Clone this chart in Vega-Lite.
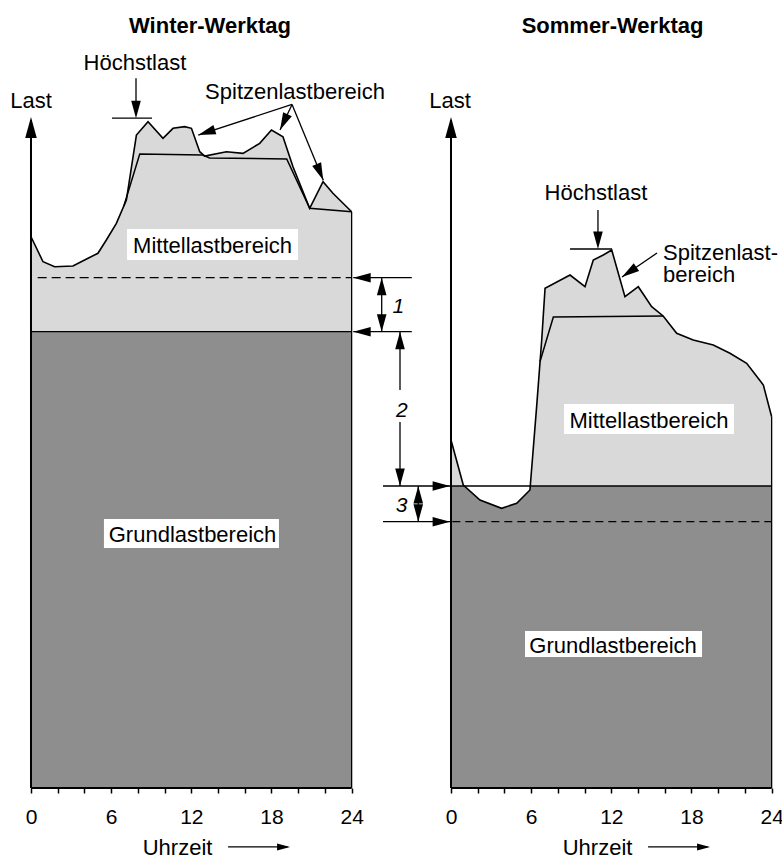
{
  "$schema": "https://vega.github.io/schema/vega-lite/v6.json",
  "autosize": {"type": "pad"},
  "padding": 0,
  "background": "white",
  "spacing": 0,
  "bounds": "flush",
  "config": {
    "view": {"stroke": null},
    "text": {"font": "Liberation Sans, Arial, sans-serif", "fontSize": 22, "color": "black", "baseline": "alphabetic"},
    "axis": {"labelFont": "Liberation Sans, Arial, sans-serif"}
  },
  "datasets": {
    "w_outer": [
      {"h": 0, "v": 83.95}, {"h": 0.9, "v": 80.14}, {"h": 1.77, "v": 79.38}, {"h": 3.14, "v": 79.49},
      {"h": 4.27, "v": 80.66}, {"h": 5.01, "v": 81.43}, {"h": 5.64, "v": 83.45}, {"h": 6.39, "v": 85.99},
      {"h": 7.14, "v": 89.54}, {"h": 7.89, "v": 99.44}, {"h": 8.76, "v": 101.47}, {"h": 9.88, "v": 98.94},
      {"h": 10.63, "v": 100.46}, {"h": 11.5, "v": 100.71}, {"h": 12.01, "v": 100.46}, {"h": 12.63, "v": 96.9},
      {"h": 13.0, "v": 96.24}, {"h": 14.63, "v": 96.9}, {"h": 15.87, "v": 96.65}, {"h": 17.12, "v": 98.17},
      {"h": 18.0, "v": 100.2}, {"h": 18.86, "v": 99.18}, {"h": 19.61, "v": 94.61}, {"h": 20.86, "v": 88.28},
      {"h": 21.86, "v": 92.33}, {"h": 22.6, "v": 90.56}, {"h": 24, "v": 87.76}
    ],
    "w_inner": [
      {"h": 6.95, "v": 88.64}, {"h": 8.14, "v": 96.55}, {"h": 12.85, "v": 96.4}, {"h": 13.37, "v": 95.94},
      {"h": 19.14, "v": 95.79}, {"h": 20.86, "v": 88.28}, {"h": 24, "v": 87.76}
    ],
    "w_base": [{"h": 0, "v": 69.49}, {"h": 24, "v": 69.49}],
    "w_boxes": [
      {"h": 7.19, "h2": 19.99, "v": 85.12, "v2": 80.41},
      {"h": 5.46, "h2": 18.56, "v": 40.96, "v2": 36.55}
    ],
    "w_rules": [
      {"h": 0, "v": 0, "h2": 0, "v2": 101.7, "k": "t"},
      {"h": 0, "v": 0, "h2": 24, "v2": 0, "k": "t"},
      {"h": 24, "v": 0, "h2": 24, "v2": 87.76, "k": "s"},
      {"h": 0, "v": 69.49, "h2": 24, "v2": 69.49, "k": "s"},
      {"h": 0.5, "v": 77.71, "h2": 24, "v2": 77.71, "k": "d"},
      {"h": 6.06, "v": 102.0, "h2": 9.06, "v2": 102.0, "k": "s"},
      {"h": 7.86, "v": 108.1, "h2": 7.86, "v2": 103, "k": "s"},
      {"h": 19.54, "v": 104.09, "h2": 12.52, "v2": 99.44, "k": "s"},
      {"h": 19.54, "v": 104.09, "h2": 18.64, "v2": 100.2, "k": "s"},
      {"h": 19.54, "v": 104.09, "h2": 21.88, "v2": 92.56, "k": "s"},
      {"h": 24.12, "v": 77.71, "h2": 28.5, "v2": 77.71, "k": "s"},
      {"h": 24.12, "v": 69.49, "h2": 28.5, "v2": 69.49, "k": "s"},
      {"h": 26.25, "v": 77.71, "h2": 26.25, "v2": 69.49, "k": "s"},
      {"h": 27.62, "v": 69.49, "h2": 27.62, "v2": 60.61, "k": "s"},
      {"h": 27.62, "v": 55.74, "h2": 27.62, "v2": 45.99, "k": "s"},
      {"h": 14.75, "v": -8.98, "h2": 19.2, "v2": -8.98, "k": "s"}
    ],
    "w_heads": [
      {"h": 0, "v": 102.18, "a": 0, "k": "ax"},
      {"h": 7.86, "v": 102.0, "a": 180, "k": "sm"},
      {"h": 12.52, "v": 99.44, "a": 252, "k": "sm"},
      {"h": 18.64, "v": 100.2, "a": 205.2, "k": "sm"},
      {"h": 21.88, "v": 92.56, "a": 157.5, "k": "sm"},
      {"h": 24.12, "v": 77.71, "a": 270, "k": "sm"},
      {"h": 24.12, "v": 69.49, "a": 270, "k": "sm"},
      {"h": 26.25, "v": 77.71, "a": 0, "k": "sm"},
      {"h": 26.25, "v": 69.49, "a": 180, "k": "sm"},
      {"h": 27.62, "v": 69.49, "a": 0, "k": "sm"},
      {"h": 27.62, "v": 45.99, "a": 180, "k": "sm"},
      {"h": 19.39, "v": -8.98, "a": 90, "k": "md"}
    ],
    "w_text": [
      {"h": 13.4, "v": 114.93, "t": "Winter-Werktag", "k": "title"},
      {"h": 0, "v": 103.6, "t": "Last", "k": "c"},
      {"h": 7.78, "v": 109.34, "t": "Höchstlast", "k": "c"},
      {"h": 19.76, "v": 104.88, "t": "Spitzenlastbereich", "k": "c"},
      {"h": 13.59, "v": 81.42, "t": "Mittellastbereich", "k": "c"},
      {"h": 12.09, "v": 37.51, "t": "Grundlastbereich", "k": "c"},
      {"h": 10.97, "v": -10.2, "t": "Uhrzeit", "k": "c"},
      {"h": 27.49, "v": 72.29, "t": "1", "k": "i"},
      {"h": 27.75, "v": 56.55, "t": "2", "k": "i"}
    ],
    "s_outer": [
      {"h": 0, "v": 52.99}, {"h": 0.92, "v": 46.14}, {"h": 2.17, "v": 43.86}, {"h": 3.79, "v": 42.59},
      {"h": 4.92, "v": 43.36}, {"h": 5.91, "v": 45.38}, {"h": 6.41, "v": 58.07}, {"h": 6.79, "v": 68.22},
      {"h": 7.04, "v": 76.1}, {"h": 8.91, "v": 78.12}, {"h": 10.03, "v": 76.34}, {"h": 10.65, "v": 80.41},
      {"h": 11.4, "v": 81.17}, {"h": 12.03, "v": 81.93}, {"h": 13.02, "v": 74.82}, {"h": 14.02, "v": 76.34},
      {"h": 15.02, "v": 73.3}, {"h": 15.88, "v": 71.88}, {"h": 16.89, "v": 69.24}, {"h": 18.13, "v": 68.22},
      {"h": 19.63, "v": 67.46}, {"h": 20.88, "v": 66.2}, {"h": 22.13, "v": 64.67}, {"h": 23.38, "v": 61.37},
      {"h": 24, "v": 56.54}
    ],
    "s_inner": [
      {"h": 6.66, "v": 64.9}, {"h": 7.66, "v": 71.73}, {"h": 15.88, "v": 71.88}
    ],
    "s_base": [
      {"h": 0, "v": 45.99}, {"h": 0.94, "v": 45.99}, {"h": 2.17, "v": 43.86}, {"h": 3.79, "v": 42.59},
      {"h": 4.92, "v": 43.36}, {"h": 5.91, "v": 45.38}, {"h": 5.95, "v": 45.99}, {"h": 24, "v": 45.99}
    ],
    "s_boxes": [
      {"h": 8.46, "h2": 21.18, "v": 58.48, "v2": 53.91},
      {"h": 5.54, "h2": 18.79, "v": 23.91, "v2": 19.95}
    ],
    "s_rules": [
      {"h": 0, "v": 0, "h2": 0, "v2": 101.7, "k": "t"},
      {"h": 0, "v": 0, "h2": 24, "v2": 0, "k": "t"},
      {"h": 24, "v": 0, "h2": 24, "v2": 56.54, "k": "s"},
      {"h": 0, "v": 45.99, "h2": 24, "v2": 45.99, "k": "s"},
      {"h": 0.1, "v": 40.55, "h2": 24, "v2": 40.55, "k": "d"},
      {"h": 8.91, "v": 82.08, "h2": 12.05, "v2": 82.08, "k": "s"},
      {"h": 11.0, "v": 88.02, "h2": 11.0, "v2": 83, "k": "s"},
      {"h": 15.42, "v": 81.47, "h2": 12.8, "v2": 77.82, "k": "s"},
      {"h": -5.09, "v": 45.99, "h2": -0.07, "v2": 45.99, "k": "s"},
      {"h": -5.09, "v": 40.55, "h2": -0.07, "v2": 40.55, "k": "s"},
      {"h": -2.45, "v": 45.99, "h2": -2.45, "v2": 40.55, "k": "s"},
      {"h": 14.75, "v": -8.98, "h2": 19.2, "v2": -8.98, "k": "s"}
    ],
    "s_heads": [
      {"h": 0, "v": 102.18, "a": 0, "k": "ax"},
      {"h": 11.0, "v": 82.08, "a": 180, "k": "sm"},
      {"h": 12.8, "v": 77.82, "a": 235.6, "k": "sm"},
      {"h": -0.07, "v": 45.99, "a": 90, "k": "sm"},
      {"h": -0.07, "v": 40.55, "a": 90, "k": "sm"},
      {"h": -2.45, "v": 45.99, "a": 0, "k": "sm"},
      {"h": -2.45, "v": 40.55, "a": 180, "k": "sm"},
      {"h": 19.39, "v": -8.98, "a": 90, "k": "md"}
    ],
    "s_text": [
      {"h": 12.09, "v": 114.93, "t": "Sommer-Werktag", "k": "title"},
      {"h": -0.07, "v": 103.6, "t": "Last", "k": "c"},
      {"h": 10.85, "v": 89.54, "t": "Höchstlast", "k": "c"},
      {"h": 15.87, "v": 80.41, "t": "Spitzenlast-", "k": "l"},
      {"h": 15.87, "v": 77.1, "t": "bereich", "k": "l"},
      {"h": 14.82, "v": 54.78, "t": "Mittellastbereich", "k": "c"},
      {"h": 12.13, "v": 20.51, "t": "Grundlastbereich", "k": "c"},
      {"h": 10.97, "v": -10.2, "t": "Uhrzeit", "k": "c"},
      {"h": -3.69, "v": 42.08, "t": "3", "k": "i"}
    ]
  },
  "hconcat": [
    {
      "width": 420,
      "height": 788,
      "encoding": {
        "x": {"field": "h", "type": "quantitative",
          "scale": {"domain": [-2.32, 29.117], "nice": false, "zero": false},
          "axis": {"values": [0, 2, 4, 6, 8, 10, 12, 14, 16, 18, 20, 22, 24],
            "labelExpr": "datum.value % 6 === 0 ? datum.label : ''",
            "domain": false, "grid": false, "ticks": true, "tickSize": 5, "tickColor": "black", "tickWidth": 1.5,
            "labelFontSize": 21, "labelColor": "black", "labelBaseline": "alphabetic", "labelPadding": 30,
            "labelFlush": false, "labelOverlap": false, "title": null}},
        "y": {"field": "v", "type": "quantitative",
          "scale": {"domain": [0, 120], "nice": false, "zero": false}, "axis": null}
      },
      "layer": [
        {"data": {"name": "w_outer"}, "mark": {"type": "area", "orient": "vertical", "color": "#d9d9d9"}, "encoding": {"y2": {"datum": 0}}},
        {"data": {"name": "w_base"}, "mark": {"type": "area", "orient": "vertical", "color": "#8e8e8e"}, "encoding": {"y2": {"datum": 0}}},
        {"data": {"name": "w_boxes"}, "mark": {"type": "rect", "color": "white"}, "encoding": {"x2": {"field": "h2"}, "y2": {"field": "v2"}}},
        {"data": {"name": "w_outer"}, "mark": {"type": "line", "color": "black", "strokeWidth": 1.6}, "encoding": {}},
        {"data": {"name": "w_inner"}, "mark": {"type": "line", "color": "black", "strokeWidth": 1.5}, "encoding": {}},
        {"data": {"name": "w_rules"}, "transform": [{"filter": "datum.k == 's'"}], "mark": {"type": "rule", "color": "black", "strokeWidth": 1.3}, "encoding": {"x2": {"field": "h2"}, "y2": {"field": "v2"}}},
        {"data": {"name": "w_rules"}, "transform": [{"filter": "datum.k == 't'"}], "mark": {"type": "rule", "color": "black", "strokeWidth": 2}, "encoding": {"x2": {"field": "h2"}, "y2": {"field": "v2"}}},
        {"data": {"name": "w_rules"}, "transform": [{"filter": "datum.k == 'd'"}], "mark": {"type": "rule", "color": "black", "strokeWidth": 1.2, "strokeDash": [9, 5]}, "encoding": {"x2": {"field": "h2"}, "y2": {"field": "v2"}}},
        {"data": {"name": "w_heads"}, "mark": {"type": "point", "shape": "M0,0L0.55,2L-0.55,2Z", "filled": true, "color": "black", "opacity": 1, "strokeWidth": 0},
          "encoding": {"angle": {"field": "a", "type": "quantitative", "scale": null},
            "size": {"field": "k", "type": "nominal", "scale": {"domain": ["ax", "sm", "md"], "range": [441, 169, 324]}, "legend": null}}},
        {"data": {"name": "w_text"}, "transform": [{"filter": "datum.k == 'title'"}], "mark": {"type": "text", "align": "center", "fontWeight": "bold", "fontSize": 22}, "encoding": {"text": {"field": "t"}}},
        {"data": {"name": "w_text"}, "transform": [{"filter": "datum.k == 'c'"}], "mark": {"type": "text", "align": "center", "fontSize": 22}, "encoding": {"text": {"field": "t"}}},
        {"data": {"name": "w_text"}, "transform": [{"filter": "datum.k == 'i'"}], "mark": {"type": "text", "align": "center", "fontSize": 21, "fontStyle": "italic"}, "encoding": {"text": {"field": "t"}}}
      ]
    },
    {
      "width": 362,
      "height": 788,
      "encoding": {
        "x": {"field": "h", "type": "quantitative",
          "scale": {"domain": [-2.32, 24.775], "nice": false, "zero": false},
          "axis": {"values": [0, 2, 4, 6, 8, 10, 12, 14, 16, 18, 20, 22, 24],
            "labelExpr": "datum.value % 6 === 0 ? datum.label : ''",
            "domain": false, "grid": false, "ticks": true, "tickSize": 5, "tickColor": "black", "tickWidth": 1.5,
            "labelFontSize": 21, "labelColor": "black", "labelBaseline": "alphabetic", "labelPadding": 30,
            "labelFlush": false, "labelOverlap": false, "title": null}},
        "y": {"field": "v", "type": "quantitative",
          "scale": {"domain": [0, 120], "nice": false, "zero": false}, "axis": null}
      },
      "layer": [
        {"data": {"name": "s_outer"}, "mark": {"type": "area", "orient": "vertical", "color": "#d9d9d9"}, "encoding": {"y2": {"datum": 0}}},
        {"data": {"name": "s_base"}, "mark": {"type": "area", "orient": "vertical", "color": "#8e8e8e"}, "encoding": {"y2": {"datum": 0}}},
        {"data": {"name": "s_boxes"}, "mark": {"type": "rect", "color": "white"}, "encoding": {"x2": {"field": "h2"}, "y2": {"field": "v2"}}},
        {"data": {"name": "s_outer"}, "mark": {"type": "line", "color": "black", "strokeWidth": 1.6}, "encoding": {}},
        {"data": {"name": "s_inner"}, "mark": {"type": "line", "color": "black", "strokeWidth": 1.5}, "encoding": {}},
        {"data": {"name": "s_rules"}, "transform": [{"filter": "datum.k == 's'"}], "mark": {"type": "rule", "color": "black", "strokeWidth": 1.3}, "encoding": {"x2": {"field": "h2"}, "y2": {"field": "v2"}}},
        {"data": {"name": "s_rules"}, "transform": [{"filter": "datum.k == 't'"}], "mark": {"type": "rule", "color": "black", "strokeWidth": 2}, "encoding": {"x2": {"field": "h2"}, "y2": {"field": "v2"}}},
        {"data": {"name": "s_rules"}, "transform": [{"filter": "datum.k == 'd'"}], "mark": {"type": "rule", "color": "black", "strokeWidth": 1.2, "strokeDash": [8, 5]}, "encoding": {"x2": {"field": "h2"}, "y2": {"field": "v2"}}},
        {"data": {"name": "s_heads"}, "mark": {"type": "point", "shape": "M0,0L0.55,2L-0.55,2Z", "filled": true, "color": "black", "opacity": 1, "strokeWidth": 0},
          "encoding": {"angle": {"field": "a", "type": "quantitative", "scale": null},
            "size": {"field": "k", "type": "nominal", "scale": {"domain": ["ax", "sm", "md"], "range": [441, 169, 324]}, "legend": null}}},
        {"data": {"name": "s_text"}, "transform": [{"filter": "datum.k == 'title'"}], "mark": {"type": "text", "align": "center", "fontWeight": "bold", "fontSize": 22}, "encoding": {"text": {"field": "t"}}},
        {"data": {"name": "s_text"}, "transform": [{"filter": "datum.k == 'c'"}], "mark": {"type": "text", "align": "center", "fontSize": 22}, "encoding": {"text": {"field": "t"}}},
        {"data": {"name": "s_text"}, "transform": [{"filter": "datum.k == 'l'"}], "mark": {"type": "text", "align": "left", "fontSize": 22}, "encoding": {"text": {"field": "t"}}},
        {"data": {"name": "s_text"}, "transform": [{"filter": "datum.k == 'i'"}], "mark": {"type": "text", "align": "center", "fontSize": 21, "fontStyle": "italic"}, "encoding": {"text": {"field": "t"}}}
      ]
    }
  ]
}
